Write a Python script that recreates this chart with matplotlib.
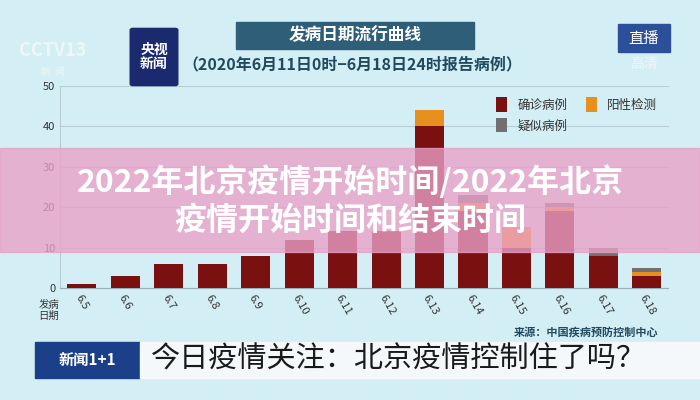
import matplotlib
matplotlib.use("Agg")
import matplotlib.pyplot as plt
from matplotlib.patches import Rectangle, FancyBboxPatch

plt.rcParams['font.family'] = ['Noto Sans CJK SC', 'DejaVu Sans']

dates = ["6.5", "6.6", "6.7", "6.8", "6.9", "6.10", "6.11", "6.12",
         "6.13", "6.14", "6.15", "6.16", "6.17", "6.18"]
confirmed = [1, 3, 6, 6, 8, 12, 14, 14, 40, 19, 10, 19, 8, 3]
positive = [0, 0, 0, 0, 0, 0, 0, 0, 4, 2, 5, 1, 0, 1]
suspected = [0, 0, 0, 0, 0, 0, 0, 0, 0, 2, 0, 1, 2, 1]

BG = "#d4eef5"
C_CONF = "#7b1010"
C_POS = "#e8901e"
C_SUS = "#707070"

fig = plt.figure(figsize=(7, 4), dpi=100, facecolor=BG)
ax = fig.add_axes([0.086, 0.28, 0.869, 0.505], facecolor=BG)

x = list(range(len(dates)))
w = 0.67
ax.bar(x, confirmed, w, color=C_CONF, label="确诊病例", zorder=3)
ax.bar(x, positive, w, bottom=confirmed, color=C_POS, label="阳性检测", zorder=3)
bottom2 = [c + p for c, p in zip(confirmed, positive)]
ax.bar(x, suspected, w, bottom=bottom2, color=C_SUS, label="疑似病例", zorder=3)

ax.set_xlim(-0.5, 13.5)
ax.set_ylim(0, 50)
ax.set_yticks([0, 10, 20, 30, 40, 50])
ax.grid(axis="y", color="#b8cdd4", lw=0.8, zorder=0)
for s in ["top", "right"]:
    ax.spines[s].set_visible(False)
ax.spines["left"].set_color("#b8cdd4")
ax.spines["bottom"].set_color("#9ab0b8")
ax.tick_params(length=0, colors="#333333", labelsize=8)
ax.set_xticks(x)
ax.set_xticklabels(dates, rotation=-60, ha="left", rotation_mode="anchor",
                   fontsize=8, color="#333333")

h, l = ax.get_legend_handles_labels()
ax.legend([h[0], h[2], h[1]], [l[0], l[2], l[1]], ncol=2, loc="upper right",
          bbox_to_anchor=(1.0, 1.0), frameon=False, fontsize=9,
          handlelength=0.9, handleheight=1.4, columnspacing=1.5,
          labelcolor="#333333")

fig.text(0.07, 0.225, "发病\n日期", fontsize=7.5, color="#333333",
         ha="center", va="center", linespacing=1.1)

# header
fig.patches.append(Rectangle((0.337, 0.878), 0.34, 0.068, transform=fig.transFigure,
                             color="#2f5f78", zorder=5))
fig.text(0.507, 0.912, "发病日期流行曲线", color="white", fontsize=12,
         weight="bold", ha="center", va="center", zorder=6)
fig.text(0.26, 0.838, "（2020年6月11日0时−6月18日24时报告病例）", color="#1f4a60",
         fontsize=11.5, weight="bold", ha="left", va="center")
fig.patches.append(FancyBboxPatch((0.19, 0.79), 0.06, 0.135, transform=fig.transFigure,
                                  boxstyle="round,pad=0.004", color="#1b2a6e", zorder=5))
fig.text(0.22, 0.858, "央视\n新闻", color="white", fontsize=10, weight="bold",
         ha="center", va="center", zorder=6, linespacing=1.0)
fig.text(0.075, 0.875, "CCTV13", color="#eef6f8", fontsize=13, weight="bold",
         ha="center", va="center")
fig.text(0.075, 0.82, "新  闻", color="#eef6f8", fontsize=7, ha="center", va="center")
fig.patches.append(Rectangle((0.883, 0.87), 0.074, 0.07, transform=fig.transFigure,
                             color="#2c4f9a", zorder=5))
fig.text(0.92, 0.905, "直播", color="white", fontsize=11, ha="center", va="center",
         zorder=6)
fig.text(0.92, 0.84, "高清", color="#eef6f8", fontsize=10, ha="center", va="center")

fig.text(0.94, 0.17, "来源：中国疾病预防控制中心", color="#1f4a60", fontsize=8,
         weight="bold", ha="right", va="center")

# bottom banner
fig.patches.append(Rectangle((0.05, 0.055), 0.15, 0.09, transform=fig.transFigure,
                             color="#1c3f8a", zorder=5))
fig.text(0.125, 0.1, "新闻1+1", color="white", fontsize=11, weight="bold",
         ha="center", va="center", zorder=6)
fig.patches.append(Rectangle((0.2, 0.055), 0.8, 0.09, transform=fig.transFigure,
                             color="#f4f8fa", zorder=5))
fig.text(0.215, 0.1, "今日疫情关注：北京疫情控制住了吗？", color="#1a1a1a",
         fontsize=21, ha="left", va="center", zorder=6)

# pink overlay
fig.patches.append(Rectangle((0, 0.37), 1, 0.26, transform=fig.transFigure,
                             color="#eaa0c8", alpha=0.78, zorder=10))
fig.text(0.5, 0.545, "2022年北京疫情开始时间/2022年北京", color="white", fontsize=23,
         weight="bold", ha="center", va="center", zorder=11)
fig.text(0.5, 0.448, "疫情开始时间和结束时间", color="white", fontsize=23,
         weight="bold", ha="center", va="center", zorder=11)

fig.savefig("out.png", dpi=100, facecolor=BG)
